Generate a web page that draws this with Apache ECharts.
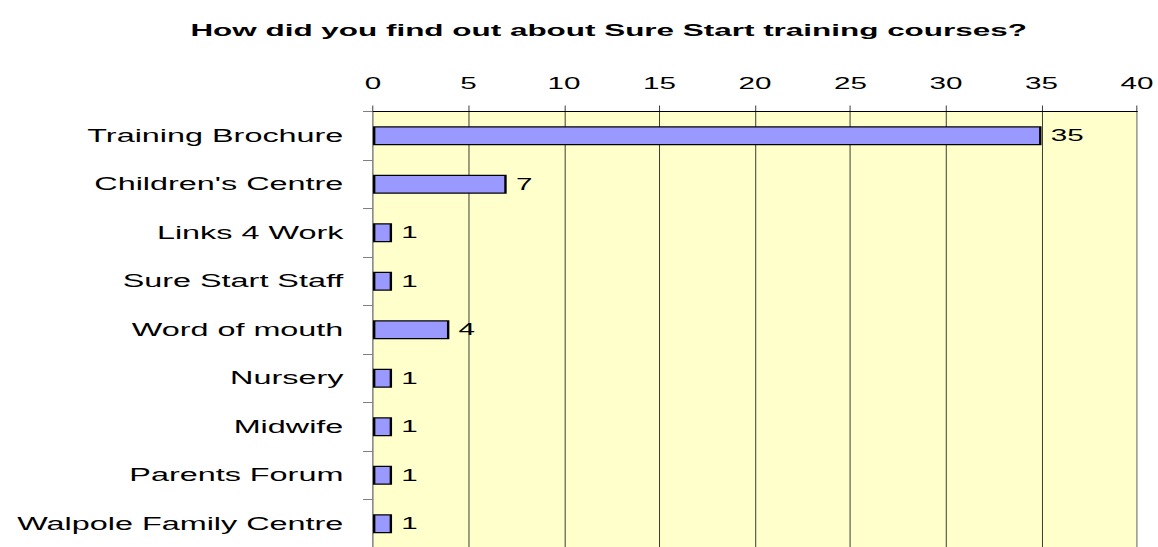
<!DOCTYPE html>
<html>

<head>
  <meta charset="utf-8">
  <title>Sure Start training courses</title>
  <script src="https://cdn.jsdelivr.net/npm/echarts/dist/echarts.min.js"></script>
  <style>
    html, body {
      margin: 0;
      padding: 0;
      background: #fff;
      overflow: hidden;
    }

    /* the original picture is stretched sideways, so the chart is drawn narrow and widened */
    #main {
      width: 626px;
      height: 547px;
      transform: scaleX(1.85);
      transform-origin: 0 0;
    }
  </style>
</head>

<body>
  <div id="main"></div>
  <script>
    // data
    const categories = ['Training Brochure', "Children's Centre", 'Links 4 Work', 'Sure Start Staff',
      'Word of mouth', 'Nursery', 'Midwife', 'Parents Forum', 'Walpole Family Centre'];
    const counts = [35, 7, 1, 1, 4, 1, 1, 1, 1];
    const axisMin = 0;
    const axisMax = 40;
    const axisStep = 5;

    const font = 'Liberation Sans, Arial, sans-serif';
    // 1 screen pixel for vertical lines after the stretch
    const thin = 1 / 1.85;

    // split line colours: grey at both ends, black in between
    const splitColors = [];
    for (let v = axisMin; v <= axisMax; v += axisStep) {
      splitColors.push(v === axisMin || v === axisMax ? '#808080' : '#000000');
    }

    const chart = echarts.init(document.getElementById('main'), null, { renderer: 'svg' });

    chart.setOption({
      animation: false,
      backgroundColor: '#ffffff',
      title: {
        text: 'How did you find out about Sure Start training courses?',
        left: 329,
        top: 21,
        padding: 0,
        textAlign: 'center',
        textStyle: { fontFamily: font, fontSize: 17, fontWeight: 'bold', color: '#000' }
      },
      grid: {
        left: 201.6,
        right: 11.4,
        top: 111.5,
        height: 436.5,
        show: true,
        backgroundColor: '#FFFFCC',
        borderColor: '#808080',
        borderWidth: thin,
        outerBoundsMode: 'none'
      },
      xAxis: {
        type: 'value',
        position: 'top',
        min: axisMin,
        max: axisMax,
        interval: axisStep,
        axisLine: { show: true, lineStyle: { color: '#000', width: 1 } },
        axisTick: { show: true, length: 6, lineStyle: { color: '#000', width: thin } },
        axisLabel: { margin: 20, fontFamily: font, fontSize: 16, color: '#000' },
        splitLine: { show: true, lineStyle: { color: splitColors, width: thin } }
      },
      yAxis: {
        type: 'category',
        data: categories,
        inverse: true,
        axisLine: { show: true, lineStyle: { color: '#808080', width: thin } },
        axisTick: { show: true, length: 5.4, lineStyle: { color: '#808080', width: 1 } },
        axisLabel: { margin: 16, fontFamily: font, fontSize: 17.5, color: '#000' }
      },
      series: [{
        type: 'bar',
        data: counts,
        barWidth: 19,
        itemStyle: { color: '#9999FF', borderColor: '#000', borderWidth: 1.3 },
        label: {
          show: true,
          position: 'right',
          distance: 5,
          fontFamily: font,
          fontSize: 16,
          color: '#000'
        }
      }]
    });
  </script>
</body>

</html>
